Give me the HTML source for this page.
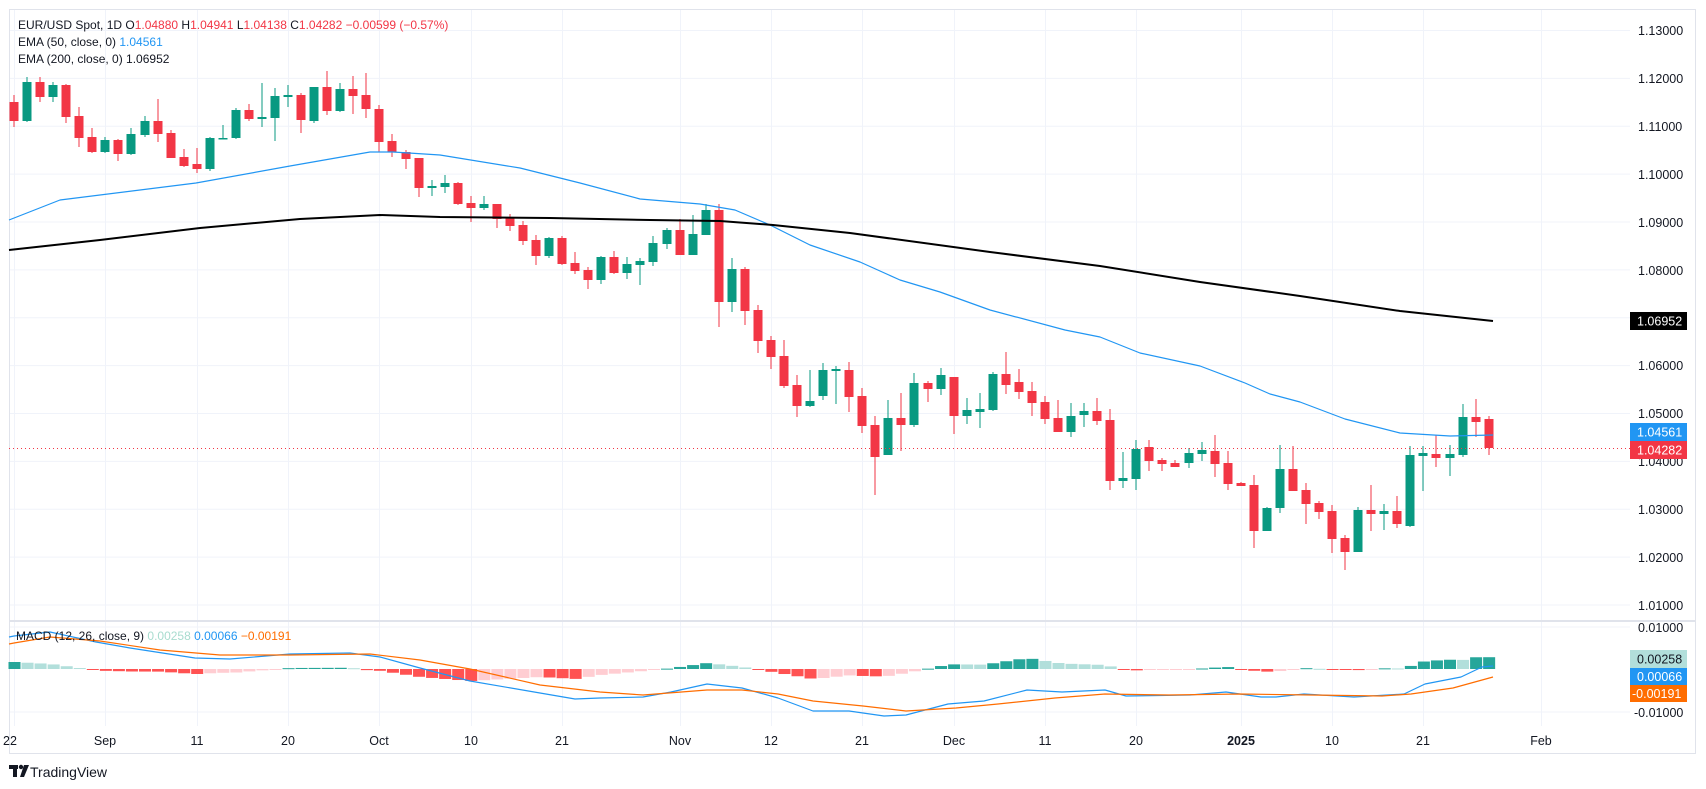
<!DOCTYPE html>
<html><head><meta charset="utf-8"><style>
html,body{margin:0;padding:0;background:#fff;}
svg{display:block;font-family:"Liberation Sans",sans-serif;}
</style></head><body>
<svg id="s" width="1706" height="789" viewBox="0 0 1706 789" xmlns="http://www.w3.org/2000/svg">
<rect x="0" y="0" width="1706" height="789" fill="#fff"/>
<g id="grid" stroke="#f0f3fa" stroke-width="1"></g>
<rect x="9.5" y="9.5" width="1686" height="744" fill="none" stroke="#e0e3eb"/>
<line x1="9" y1="621" x2="1696" y2="621" stroke="#e0e3eb" stroke-width="2"/>
<g id="hist"></g>
<g id="candles"></g>
<g id="lines"></g>
<line x1="9" y1="448.5" x2="1630" y2="448.5" stroke="#f23645" stroke-dasharray="1,3"/>
<g font-size="12.5" fill="#131722" text-anchor="start">
<text x="1638" y="35">1.13000</text>
<text x="1638" y="83">1.12000</text>
<text x="1638" y="131">1.11000</text>
<text x="1638" y="179">1.10000</text>
<text x="1638" y="227">1.09000</text>
<text x="1638" y="275">1.08000</text>
<text x="1638" y="370">1.06000</text>
<text x="1638" y="418">1.05000</text>
<text x="1638" y="466">1.04000</text>
<text x="1638" y="514">1.03000</text>
<text x="1638" y="562">1.02000</text>
<text x="1638" y="610">1.01000</text>
<text x="1638" y="632">0.01000</text>
<text x="1634" y="717">-0.01000</text>
</g>
<rect x="1630" y="312" width="57" height="18" fill="#000"/>
<text x="1637" y="325.5" font-size="12.5" fill="#fff">1.06952</text>
<rect x="1630" y="423" width="57" height="18" fill="#2196f3"/>
<text x="1637" y="436.5" font-size="12.5" fill="#fff">1.04561</text>
<rect x="1630" y="441" width="57" height="18" fill="#f23645"/>
<text x="1637" y="454.5" font-size="12.5" fill="#fff">1.04282</text>
<rect x="1630" y="650" width="57" height="18" fill="#b2dfdb"/>
<text x="1637" y="663.5" font-size="12.5" fill="#131722">0.00258</text>
<rect x="1630" y="668" width="57" height="17" fill="#2196f3"/>
<text x="1637" y="681" font-size="12.5" fill="#fff">0.00066</text>
<rect x="1630" y="685" width="57" height="17" fill="#ff6d00"/>
<text x="1632" y="698" font-size="12.5" fill="#fff">-0.00191</text>
<g font-size="12.5" fill="#131722" text-anchor="middle">
<text x="10" y="745">22</text>
<text x="105" y="745">Sep</text>
<text x="197" y="745">11</text>
<text x="288" y="745">20</text>
<text x="379" y="745">Oct</text>
<text x="471" y="745">10</text>
<text x="562" y="745">21</text>
<text x="680" y="745">Nov</text>
<text x="771" y="745">12</text>
<text x="862" y="745">21</text>
<text x="954" y="745">Dec</text>
<text x="1045" y="745">11</text>
<text x="1136" y="745">20</text>
<text x="1241" y="745" font-weight="bold">2025</text>
<text x="1332" y="745">10</text>
<text x="1423" y="745">21</text>
<text x="1541" y="745">Feb</text>
</g>
<g font-size="12" fill="#131722">
<text x="18" y="29">EUR/USD Spot, 1D  O<tspan fill="#f23645">1.04880</tspan>  H<tspan fill="#f23645">1.04941</tspan>  L<tspan fill="#f23645">1.04138</tspan>  C<tspan fill="#f23645">1.04282</tspan>  <tspan fill="#f23645">−0.00599 (−0.57%)</tspan></text>
<text x="18" y="46">EMA (50, close, 0)  <tspan fill="#2196f3">1.04561</tspan></text>
<text x="18" y="63">EMA (200, close, 0)  1.06952</text>
<text x="16" y="640">MACD (12, 26, close, 9)  <tspan fill="#a8dccf">0.00258</tspan>  <tspan fill="#2196f3">0.00066</tspan>  <tspan fill="#ff6d00">−0.00191</tspan></text>
</g>
<g fill="#131722">
<rect x="9" y="765" width="9" height="4"/>
<rect x="13" y="765" width="4" height="12"/>
<circle cx="21" cy="767" r="2.2"/>
<polygon points="24,765 29,765 24,777 20,777"/>
<text x="30" y="777" font-size="14">TradingView</text>
</g>
</svg>
<script>
const NS="http://www.w3.org/2000/svg";
function el(p,t,a){const e=document.createElementNS(NS,t);for(const k in a)e.setAttribute(k,a[k]);p.appendChild(e);return e;}
const grid=document.getElementById('grid');
for(let k=0;k<13;k++){const y=30.5+k*47.87;el(grid,'line',{x1:9,x2:1630,y1:y,y2:y});}
[627,712].forEach(y=>el(grid,'line',{x1:9,x2:1630,y1:y,y2:y}));
[14,105,197,288,379,471,562,680,771,862,954,1045,1136,1241,1332,1423,1541].forEach(x=>el(grid,'line',{x1:x+0.5,x2:x+0.5,y1:10,y2:726}));
const D=`r 102 121 95 127
g 82 121 77 122
r 82 97 77 102
g 85 97 82 102
r 85 117 84 123
r 116 138 107 147
r 137 152 128 153
g 140 152 137 153
r 140 154 139 161
g 134 154 128 155
g 121 135 116 137
r 121 134 99 142
r 133 158 130 158
r 157 166 149 167
r 164 169 148 173
g 138 169 137 171
g 138 139 125 139
g 110 138 108 139
r 110 119 104 121
g 117 119 83 127
g 96 118 88 141
g 95 97 85 107
r 95 120 93 133
g 87 121 87 123
r 87 111 71 115
g 89 111 83 112
r 89 96 76 114
r 95 109 73 118
r 109 142 105 152
r 141 152 134 157
r 152 159 150 169
r 158 188 158 197
g 186 188 180 196
g 183 187 175 193
r 183 204 182 205
r 203 208 196 222
g 204 208 196 210
r 204 219 204 228
r 218 226 214 231
r 225 241 221 245
r 240 256 235 265
g 238 256 237 258
r 238 264 236 265
r 263 271 252 274
r 270 280 267 289
g 257 280 256 284
r 257 273 251 274
g 264 273 257 279
g 261 265 258 285
g 243 262 236 266
g 230 244 228 249
r 230 255 219 255
g 234 255 215 255
g 210 235 204 235
r 210 302 204 327
g 269 302 258 312
r 269 311 267 325
r 310 341 305 353
r 340 357 336 369
r 356 386 340 388
r 385 406 375 417
g 401 406 370 407
g 370 396 363 400
g 369 371 366 404
r 370 397 362 412
r 396 426 388 433
r 425 457 416 495
g 418 455 400 455
r 418 425 393 451
g 383 425 373 427
r 383 389 381 402
g 375 389 368 395
r 377 416 377 434
g 410 416 398 424
g 409 412 393 428
g 374 410 372 411
r 374 385 352 394
r 382 392 369 399
r 391 403 382 416
r 402 419 396 424
r 418 432 400 432
g 416 432 403 437
g 411 415 403 427
r 411 421 398 425
r 420 481 409 490
g 478 481 452 488
g 449 479 440 490
r 447 461 440 471
r 460 464 458 471
r 463 467 460 467
g 453 463 448 468
g 450 454 442 461
r 451 464 435 477
r 463 484 451 490
r 483 486 482 486
r 485 531 475 548
g 508 531 507 531
g 469 508 445 513
r 469 491 446 491
r 490 504 483 524
r 503 512 501 519
r 511 539 505 553
r 538 552 535 570
g 510 552 507 552
r 510 514 485 531
g 511 514 504 530
r 511 524 496 528
g 455 526 446 527
g 453 456 446 491
r 454 458 435 467
g 454 458 445 476
g 417 455 404 457
r 417 422 399 437
r 419 448 416 455`.trim().split('\n');
const cg=document.getElementById('candles');
const X=i=>14+13.05*i;
D.forEach((l,i)=>{const p=l.split(' ');const c=p[0]=='g'?'#089981':'#f23645';const t=+p[1],b=+p[2],wt=+p[3],wb=+p[4];const x=X(i);
el(cg,'rect',{x:Math.round(x)-0.5,y:wt,width:1,height:Math.max(1,wb-wt),fill:c});
el(cg,'rect',{x:Math.round(x)-4.5,y:t,width:9,height:Math.max(1.5,b-t),fill:c});});
const lg=document.getElementById('lines');
function pl(pts,col,w){el(lg,'polyline',{points:pts.map(p=>p.join(',')).join(' '),fill:'none',stroke:col,'stroke-width':w,'stroke-linejoin':'round'});}
pl([[9,220],[60,200],[196,183],[290,166],[370,152],[393,152],[440,155],[520,168],[580,183],[640,199],[700,204],[735,210],[770,225],[810,245],[860,262],[900,280],[940,292],[990,310],[1065,330],[1100,337],[1140,353],[1200,366],[1245,383],[1270,394],[1300,402],[1345,419],[1400,433],[1450,436],[1493,435]],'#2196f3',1.2);
pl([[9,250],[100,240],[200,228],[300,219],[380,215],[440,217],[550,218],[650,220],[720,221],[773,225],[850,233],[990,252],[1100,266],[1200,282],[1300,296],[1400,311],[1493,321]],'#000',2);
const MB=[[9,637],[14,636],[50,632],[96,642],[130,648],[195,658],[230,659],[290,654],[350,653],[380,657],[420,668],[470,681],[540,693],[575,699],[600,698],[643,697],[671,692],[707,684],[742,688],[778,698],[813,711],[849,711],[884,716],[906,715],[948,704],[984,701],[1027,690],[1062,692],[1105,690],[1126,696],[1190,695],[1226,692],[1261,697],[1276,697],[1304,694],[1354,697],[1404,694],[1425,684],[1461,677],[1482,667],[1493,666]];
const MO=[[9,644],[14,643],[50,637],[100,641],[160,650],[220,655],[290,655],[370,654],[420,660],[470,669],[540,685],[600,692],[643,695],[707,690],[742,690],[778,694],[813,701],[863,706],[906,711],[956,708],[998,704],[1055,698],[1105,694],[1169,695],[1240,694],[1311,695],[1382,696],[1411,694],[1453,688],[1493,677]];
function itp(P,x){for(let k=1;k<P.length;k++){if(x<=P[k][0]){const a=P[k-1],b=P[k];return a[1]+(b[1]-a[1])*(x-a[0])/(b[0]-a[0]);}}return P[P.length-1][1];}
const hg=document.getElementById('hist');let prev=0;
for(let i=0;i<114;i++){const x=X(i);const h=itp(MO,x)-itp(MB,x);let c;
if(h>=0)c=h>=prev?'#26a69a':'#b2dfdb';else c=h<=prev?'#ff5252':'#ffcdd2';prev=h;
const y0=669;el(hg,'rect',{x:x-5.5,y:h>=0?y0-h:y0,width:12,height:Math.max(1,Math.abs(h)),fill:c});}
pl(MB,'#2196f3',1.2);pl(MO,'#ff6d00',1.2);
</script>
</body></html>
